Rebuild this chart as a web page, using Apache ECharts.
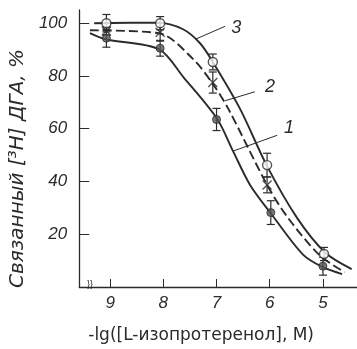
<!DOCTYPE html>
<html><head><meta charset="utf-8">
<script src="https://cdn.jsdelivr.net/npm/echarts@6/dist/echarts.min.js"></script>
<style>html,body{margin:0;padding:0;background:#fff}#c{width:357px;height:349px}</style>
</head><body><div id="c"></div>
<script>
// tick labels
const xTicks = [9, 8, 7, 6, 5];
const yTicks = [20, 40, 60, 80, 100];
// fitted curves, x = -lg[C]
const curve1X = [9.38, 9.09, 8.08, 7.62, 6.99, 6.69, 6.37, 5.96, 5.38, 5.00, 4.64];
const curve1Y = [96.2, 93.9, 90.1, 79.5, 63.8, 51.5, 38.7, 27.4, 12.4, 7.5, 4.9];
const curve2X = [9.38, 8.08, 7.44, 7.07, 6.78, 6.05, 5.66, 5.06, 4.59];
const curve2Y = [97.3, 96.2, 86.4, 77.0, 67.6, 38.7, 26.3, 12.0, 5.6];
const curve3X = [9.30, 8.10, 7.63, 7.31, 7.07, 6.56, 6.05, 5.49, 4.96, 4.46];
const curve3Y = [100, 100.2, 97.7, 92.4, 85.3, 67.6, 45.8, 26.3, 13.1, 6.8];
// measured points with error bars
const m1X = [9.07, 8.06, 7.0, 5.98, 5.0];
const m1Y = [94.3, 90.5, 63.5, 28.2, 7.9];
const m1E = [3.4, 3.0, 4.2, 4.5, 3.4];
const m2X = [9.07, 8.06, 7.07, 6.05];
const m2Y = [97, 96.6, 77.5, 38.7];
const m2E = [1.5, 3.4, 4.0, 3.0];
const m3X = [9.07, 8.06, 7.07, 6.05, 4.98];
const m3Y = [100, 100, 85.3, 46.2, 12.5];
const m3E = [3.3, 2.5, 3.0, 4.5, 2.5];
// curve number labels and leader lines
const labelText = ['1', '2', '3'];
const labelX = [5.64, 5.995, 6.63];
const labelY = [60.1, 75.9, 98.0];
const leaderFrom = [[6.69, 51.5], [6.84, 70.6], [7.40, 93.9]];
const leaderTo = [[5.86, 57.5], [6.28, 74.0], [6.84, 98.8]];

const INK = '#2b2b2b';
const FONT = "'Liberation Sans', Arial, sans-serif";
const zip = (xs, ys) => xs.map((x, i) => [x, ys[i]]);
const zip3 = (xs, ys, es) => xs.map((x, i) => [x, ys[i], es[i]]);

function errRender(params, api) {
  const x = api.value(0), y = api.value(1), e = api.value(2);
  const a = api.coord([x, y + e]), b = api.coord([x, y - e]);
  const w = 4;
  const st = { stroke: INK, lineWidth: 1.2 };
  return { type: 'group', children: [
    { type: 'line', shape: { x1: a[0], y1: a[1], x2: b[0], y2: b[1] }, style: st },
    { type: 'line', shape: { x1: a[0] - w, y1: a[1], x2: a[0] + w, y2: a[1] }, style: st },
    { type: 'line', shape: { x1: b[0] - w, y1: b[1], x2: b[0] + w, y2: b[1] }, style: st }
  ]};
}

const lineSeries = (data, type) => ({
  type: 'line', data, smooth: 0.3, symbol: 'none', silent: true, z: 2,
  lineStyle: { color: INK, width: 1.9, type: type || 'solid' }
});
const errSeries = (data) => ({ type: 'custom', data, renderItem: errRender, z: 3, silent: true });

const chart = echarts.init(document.getElementById('c'), null, { renderer: 'canvas' });
chart.setOption({
  animation: false,
  backgroundColor: '#fff',
  grid: { left: 79, right: 0, top: 10, bottom: 60 },
  xAxis: {
    type: 'value', inverse: true, min: 4.36, max: 9.58,
    axisLine: { lineStyle: { color: INK, width: 1.3 } },
    axisTick: { inside: true, length: 8, customValues: xTicks, lineStyle: { color: INK } },
    axisLabel: { customValues: xTicks, margin: 8, color: INK, fontSize: 17, fontStyle: 'italic', fontFamily: FONT },
    splitLine: { show: false },
    name: '-lg([L-изопротеренол], M)', nameLocation: 'middle', nameGap: 40,
    nameTextStyle: { color: INK, fontSize: 17, fontFamily: "'DejaVu Sans', sans-serif", padding: [0, 34, 0, 0] }
  },
  yAxis: {
    type: 'value', min: 0, max: 105,
    axisLine: { show: true, lineStyle: { color: INK, width: 1.3 } },
    axisTick: { show: true, inside: true, length: 10, customValues: yTicks, lineStyle: { color: INK } },
    axisLabel: { customValues: yTicks, margin: 12, color: INK, fontSize: 17, fontStyle: 'italic', fontFamily: FONT },
    splitLine: { show: false },
    name: 'Связанный [³H] ДГА, %', nameLocation: 'middle', nameGap: 47, nameRotate: 90,
    nameTextStyle: { color: INK, fontSize: 20, fontStyle: 'italic', fontFamily: "'DejaVu Sans', sans-serif", padding: [0, 40, 0, 0] }
  },
  graphic: [{ type: 'text', left: 87, top: 280, style: { text: '}}', fontSize: 9, fill: INK } }],
  series: [
    lineSeries(zip(curve1X, curve1Y)),
    lineSeries(zip(curve2X, curve2Y), [9, 4]),
    lineSeries(zip(curve3X, curve3Y)),
    errSeries(zip3(m1X, m1Y, m1E)),
    errSeries(zip3(m2X, m2Y, m2E)),
    errSeries(zip3(m3X, m3Y, m3E)),
    { type: 'scatter', data: zip(m1X, m1Y), symbol: 'circle', symbolSize: 8, z: 4,
      itemStyle: { color: '#555', borderColor: INK, borderWidth: 1 } },
    { type: 'scatter', data: zip(m2X, m2Y), symbol: 'path://M0,0L10,10M10,0L0,10', symbolSize: 9, z: 4,
      itemStyle: { color: 'none', borderColor: INK, borderWidth: 1.4 } },
    { type: 'scatter', data: zip(m3X, m3Y), symbol: 'circle', symbolSize: 9, z: 4,
      itemStyle: { color: '#fff', borderColor: INK, borderWidth: 1.4 } },
    { type: 'line', data: [], silent: true, z: 5,
      markLine: { silent: true, symbol: 'none', label: { show: false },
        lineStyle: { color: INK, width: 1, type: 'solid' },
        data: leaderFrom.map((p, i) => [{ coord: p }, { coord: leaderTo[i] }]) },
      markPoint: { silent: true, symbol: 'circle', symbolSize: 0,
        label: { show: true, position: 'inside', color: INK, fontSize: 18, fontStyle: 'italic', fontFamily: FONT,
          formatter: (p) => p.name },
        data: labelText.map((t, i) => ({ name: t, coord: [labelX[i], labelY[i]] })) } }
  ]
});
</script></body></html>
